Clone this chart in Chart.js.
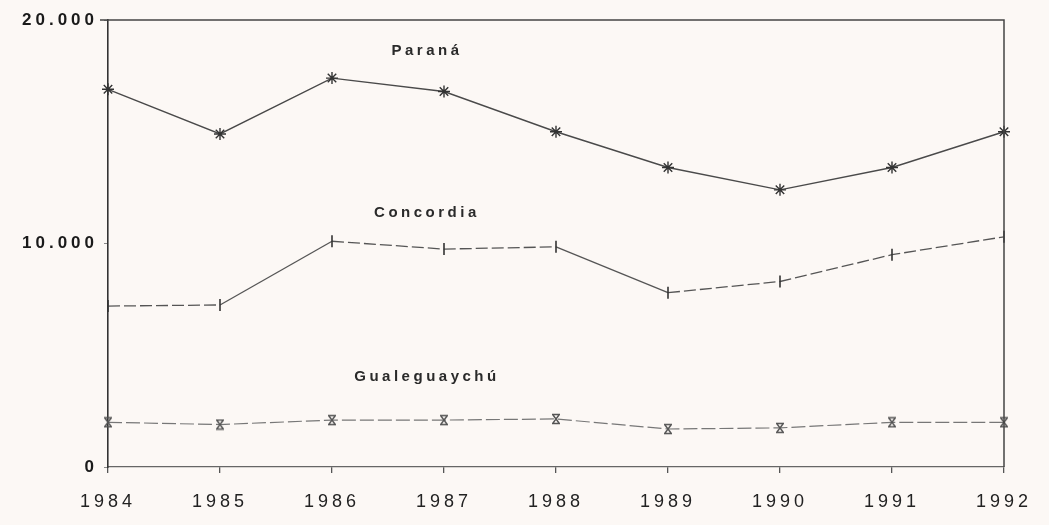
<!DOCTYPE html>
<html>
<head>
<meta charset="utf-8">
<script src="https://cdn.jsdelivr.net/npm/chart.js@4"></script>
<style>
  html, body { margin: 0; padding: 0; background: #fcf8f5; }
  #wrap { width: 1049px; height: 525px; }
</style>
</head>
<body>
<div id="wrap"><canvas id="grafico"></canvas></div>
<script>
const years = ["1984", "1985", "1986", "1987", "1988", "1989", "1990", "1991", "1992"];
const parana = [16900, 14900, 17400, 16800, 15000, 13400, 12400, 13400, 15000];
const concordia = [7200, 7250, 10100, 9750, 9850, 7800, 8300, 9500, 10300];
const gualeguaychu = [2000, 1900, 2100, 2100, 2150, 1700, 1750, 2000, 2000];
const yTicks = [0, 10000, 20000];
const seriesNames = ["Paraná", "Concordia", "Gualeguaychú"];

// marcador tipo "reloj de arena" (X con barras) para Gualeguaychú
function hourglass() {
  const c = document.createElement("canvas");
  c.width = 12; c.height = 12;
  const g = c.getContext("2d");
  g.strokeStyle = "#555";
  g.lineWidth = 1.4;
  g.beginPath();
  g.moveTo(2, 1.5); g.lineTo(10, 1.5);
  g.moveTo(2, 10.5); g.lineTo(10, 10.5);
  g.moveTo(3, 2); g.lineTo(9, 10);
  g.moveTo(9, 2); g.lineTo(3, 10);
  g.stroke();
  return c;
}

function fmt(v) {
  return String(v).replace(/\B(?=(\d{3})+(?!\d))/g, ".");
}

// marco superior y derecho + nombres de las series
const framePlugin = {
  id: "frame",
  beforeDraw(chart) {
    chart.ctx.letterSpacing = "4px";
  },
  afterDraw(chart) {
    const { ctx, chartArea: a, scales } = chart;
    ctx.save();
    ctx.strokeStyle = "#444";
    ctx.lineWidth = 1.5;
    ctx.beginPath();
    ctx.moveTo(a.left - 8, a.top);
    ctx.lineTo(a.right, a.top);
    ctx.lineTo(a.right, a.bottom);
    ctx.stroke();

    ctx.fillStyle = "#2a2a2a";
    ctx.font = "bold 15px 'Liberation Sans', Arial, sans-serif";
    ctx.textAlign = "center";
    ctx.textBaseline = "middle";
    ctx.letterSpacing = "3.5px";
    const anchors = [[2.83, 18600], [2.83, 11350], [2.83, 4050]];
    seriesNames.forEach((name, i) => {
      const x = scales.x.getPixelForValue(anchors[i][0]);
      const y = scales.y.getPixelForValue(anchors[i][1]);
      ctx.fillText(name, x + 2, y);
    });
    ctx.restore();
  }
};

const ctx = document.getElementById("grafico").getContext("2d");

new Chart(ctx, {
  type: "line",
  data: {
    labels: years,
    datasets: [
      {
        label: seriesNames[0],
        data: parana,
        borderColor: "#4a4a4a",
        borderWidth: 1.4,
        pointStyle: "star",
        pointRadius: 6,
        pointBorderWidth: 1.4,
        pointBorderColor: "#333",
        tension: 0
      },
      {
        label: seriesNames[1],
        data: concordia,
        borderColor: "#555",
        borderWidth: 1.3,
        borderDash: [12, 4],
        segment: {
          borderDash: (c) => Math.abs(c.p1.parsed.y - c.p0.parsed.y) > 1500 ? [] : [12, 4]
        },
        pointStyle: "line",
        pointRotation: 90,
        pointRadius: 6,
        pointBorderWidth: 1.6,
        pointBorderColor: "#333",
        tension: 0
      },
      {
        label: seriesNames[2],
        data: gualeguaychu,
        borderColor: "#777",
        borderWidth: 1.2,
        borderDash: [14, 4],
        pointStyle: hourglass(),
        pointRadius: 6,
        tension: 0
      }
    ]
  },
  options: {
    responsive: true,
    maintainAspectRatio: false,
    animation: false,
    layout: { padding: { top: 20, right: 45, left: 0, bottom: 0 } },
    plugins: {
      legend: { display: false },
      tooltip: { enabled: false }
    },
    scales: {
      x: {
        offset: false,
        grid: { drawOnChartArea: false, drawTicks: true, tickLength: 6, color: "#555", lineWidth: 1.3 },
        border: { display: true, color: "#666", width: 1.3, dash: [14, 4] },
        ticks: {
          color: "#222",
          padding: 18,
          maxRotation: 0,
          font: { family: "'Liberation Sans', Arial, sans-serif", size: 18 }
        },
        afterFit(scale) { scale.height = 58; }
      },
      y: {
        min: 0,
        max: 20000,
        afterBuildTicks(scale) { scale.ticks = yTicks.map((v) => ({ value: v })); },
        grid: { drawOnChartArea: false, drawTicks: true, tickLength: 4, color: "#888" },
        border: { display: true, color: "#333", width: 1.6 },
        ticks: {
          color: "#1a1a1a",
          padding: 6,
          callback: (v) => fmt(v),
          font: { family: "'Liberation Sans', Arial, sans-serif", size: 17, weight: "bold" }
        },
        afterFit(scale) { scale.width = 108; }
      }
    }
  },
  plugins: [framePlugin]
});
</script>
</body>
</html>
